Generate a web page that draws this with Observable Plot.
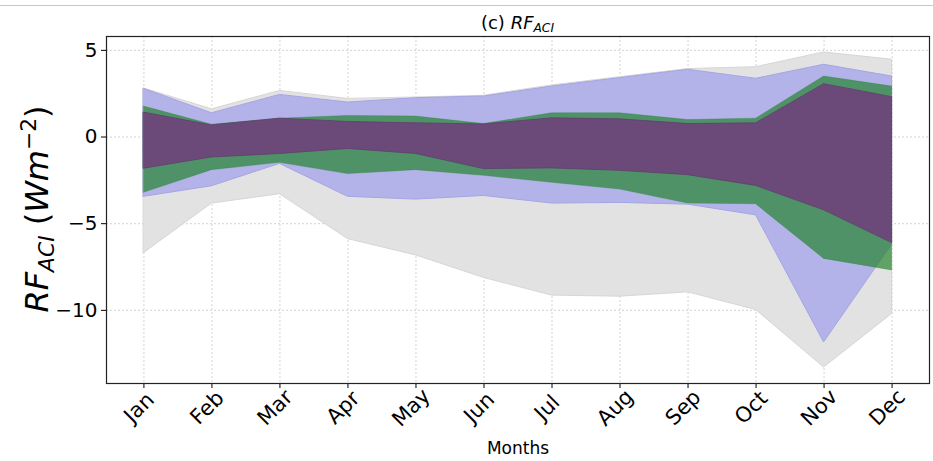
<!DOCTYPE html>
<html><head><meta charset="utf-8">
<script src="https://cdn.jsdelivr.net/npm/d3@7"></script>
<script src="https://cdn.jsdelivr.net/npm/@observablehq/plot@0.6"></script>
<style>
body{margin:0;background:#fff;font-family:"DejaVu Sans",sans-serif;}
#wrap{position:relative;width:933px;height:461px;overflow:hidden;}
#chart{position:absolute;left:0;top:0;}
#topline{position:absolute;left:0;top:5px;width:933px;height:0;border-top:1.5px solid #c8c8c8;}
#title{position:absolute;top:12px;left:106px;width:823px;text-align:center;font-size:18px;line-height:22px;}
#ylab{position:absolute;left:38px;top:209px;transform:translate(-50%,-50%) rotate(-90deg);font-size:32px;white-space:nowrap;line-height:38px;}
sub{font-size:68%;vertical-align:-0.25em;}
sup{font-size:68%;vertical-align:0.55em;}
</style></head>
<body>
<div id="wrap">
  <div id="chart"></div>
  <div id="topline"></div>
  <div id="title">(c) <i>RF<sub>ACI</sub></i></div>
  <div id="ylab"><i>RF<sub>ACI</sub></i> (<i>Wm</i><sup>−2</sup>)</div>
</div>
<script>
const months = ["Jan","Feb","Mar","Apr","May","Jun","Jul","Aug","Sep","Oct","Nov","Dec"];
const yTicks = [-10, -5, 0, 5];

// grey band (widest)
const greyLow  = [-6.70, -3.84, -3.30, -5.89, -6.83, -8.13, -9.15, -9.21, -8.96, -9.98, -13.30, -10.21];
const greyHigh = [ 2.80,  1.60,  2.66,  2.20,  2.28,  2.38,  2.98,  3.45,  3.92,  4.03,   4.88,   4.46];
// blue band
const blueLow  = [-3.45, -2.84, -1.55, -3.45, -3.61, -3.40, -3.84, -3.80, -3.90, -4.52, -11.85, -6.20];
const blueHigh = [ 2.78,  1.37,  2.43,  1.99,  2.24,  2.34,  2.91,  3.40,  3.88,  3.36,   4.17,   3.49];
// green band
const greenLow  = [-3.22, -1.91, -1.49, -2.14, -1.91, -2.24, -2.64, -3.03, -3.84, -3.88, -7.03, -7.70];
const greenHigh = [ 1.76,  0.71,  1.06,  1.22,  1.18,  0.75,  1.37,  1.37,  0.98,  1.06,  3.49,  2.91];
// purple band
const purpleLow  = [-1.83, -1.18, -0.98, -0.69, -0.98, -1.85, -1.81, -1.95, -2.20, -2.82, -4.23, -6.12];
const purpleHigh = [ 1.41,  0.67,  1.06,  0.87,  0.79,  0.73,  1.08,  1.02,  0.75,  0.79,  3.05,  2.30];

const idx = months.map((_, i) => i);
const band = (lo, hi) => idx.map(i => ({x: i, lo: lo[i], hi: hi[i]}));
const fmt = d => d < 0 ? "\u2212" + Math.abs(d) : String(d);

const chart = Plot.plot({
  width: 933,
  height: 461,
  marginLeft: 106,
  marginRight: 4,
  marginTop: 36,
  marginBottom: 78,
  style: {fontFamily: "DejaVu Sans, sans-serif", background: "white", color: "black", overflow: "visible"},
  x: {type: "linear", domain: [-0.55, 11.55]},
  y: {domain: [-14.22, 5.8]},
  marks: [
    Plot.gridX(idx, {stroke: "#c0c0c0", strokeOpacity: 1, strokeDasharray: "2,2", strokeWidth: 0.7}),
    Plot.gridY(yTicks, {stroke: "#c0c0c0", strokeOpacity: 1, strokeDasharray: "2,2", strokeWidth: 0.7}),
    Plot.areaY(band(greyLow, greyHigh), {x: "x", y1: "lo", y2: "hi", fill: "#e2e2e2", stroke: "#d6d6d6", strokeWidth: 1}),
    Plot.areaY(band(blueLow, blueHigh), {x: "x", y1: "lo", y2: "hi", fill: "#b3b3ea", stroke: "#a5a5e4", strokeWidth: 1}),
    Plot.areaY(band(greenLow, greenHigh), {x: "x", y1: "lo", y2: "hi", fill: "rgb(27,129,34)", fillOpacity: 0.65, stroke: "rgb(27,129,34)", strokeOpacity: 0.3, strokeWidth: 1}),
    Plot.areaY(band(purpleLow, purpleHigh), {x: "x", y1: "lo", y2: "hi", fill: "#6b4a7a", stroke: "#5e3f6c", strokeWidth: 0.8}),
    Plot.axisX({ticks: idx, tickFormat: () => "", tickSize: 5, label: null}),
    Plot.axisY({ticks: yTicks, tickFormat: fmt, tickSize: 5, tickPadding: 4, fontSize: 20, label: null}),
    Plot.text(idx, {x: d => d, frameAnchor: "bottom", dy: 29, text: d => months[d], rotate: -45, fontSize: 21, textAnchor: "middle"}),
    Plot.text(["Months"], {frameAnchor: "bottom", dy: 70, text: d => d, fontSize: 17}),
    Plot.frame({stroke: "#222", strokeWidth: 1.2})
  ]
});
document.getElementById("chart").appendChild(chart);
</script>
</body></html>
